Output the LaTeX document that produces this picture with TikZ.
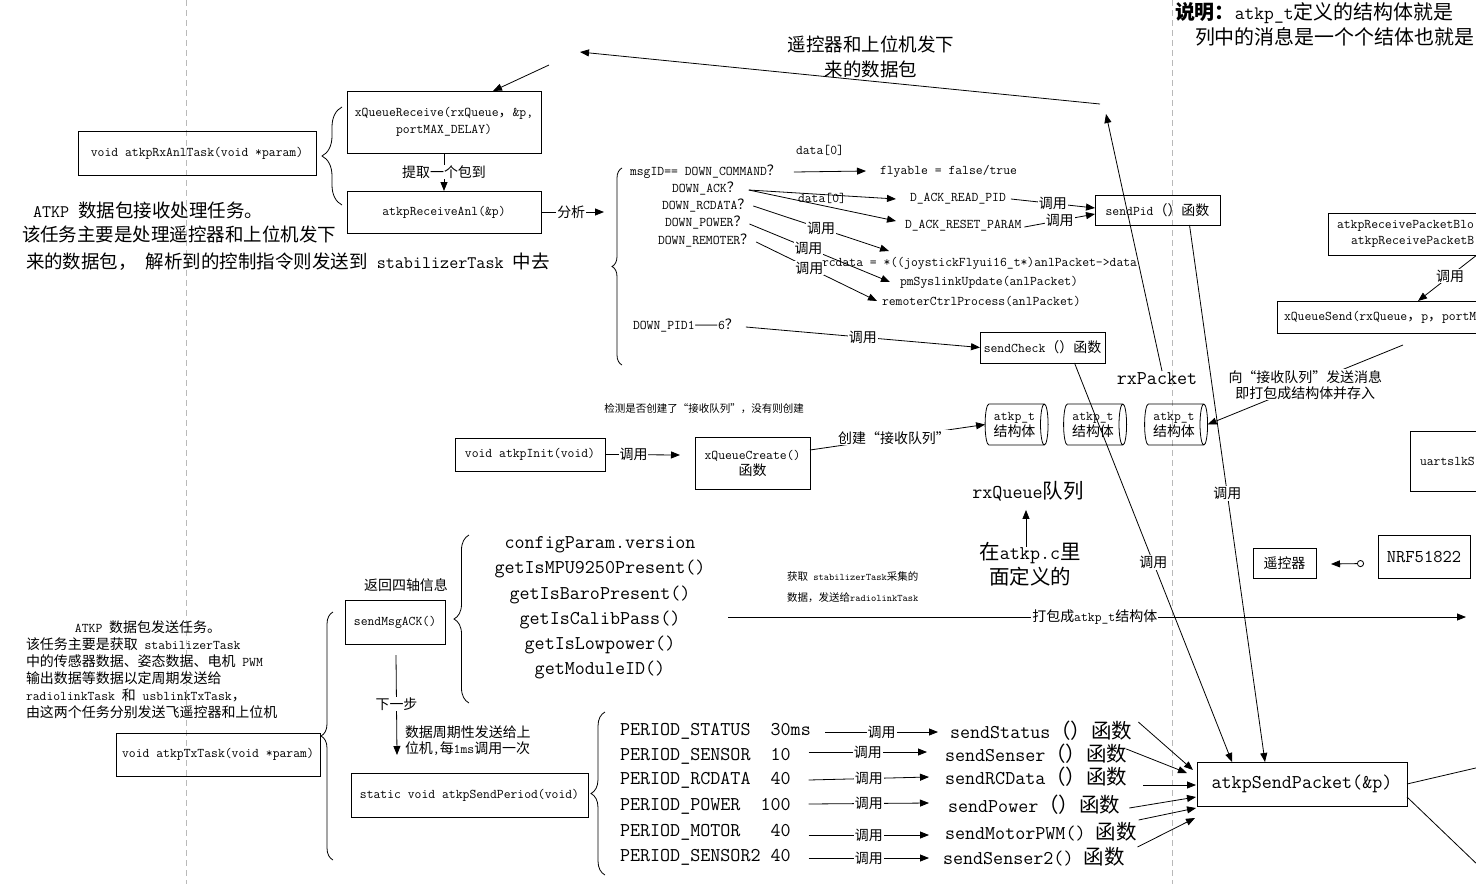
\documentclass[tikz,border=0pt]{standalone}
\usepackage{fontspec}
\newfontfamily\zhf{Noto Sans CJK SC}[Scale=1.05]
\newcommand\zh[1]{{\zhf #1}}
\usetikzlibrary{arrows.meta,shapes.geometric,decorations.pathreplacing,calc}
\tikzset{
  every node/.style={inner sep=0pt, outer sep=0pt},
  ln/.style={line width=0.8pt},
  arr/.style={line width=0.8pt, -{Triangle[length=9pt,width=7pt]}},
  fnt/.style 2 args={font=\ttfamily\fontsize{#1}{#2}\selectfont},
  sm/.style={fnt={13.3}{16}},
  big/.style={fnt={19.5}{25.2}},
  mid/.style={fnt={17.6}{25}},
  tny/.style={fnt={10}{12}},
  box/.style={draw, line width=0.8pt, align=center, sm},
  lab/.style={fill=white, inner sep=1pt, sm},
  brc/.style={decorate, decoration={brace, amplitude=#1}, line width=0.8pt},
  dashln/.style={draw=gray!55, line width=0.8pt, dash pattern=on 6pt off 4pt},
  cyl/.style={cylinder, draw, line width=0.8pt, shape aspect=0.3, minimum width=41, minimum height=63, align=center, sm}
}
\begin{document}
\begin{tikzpicture}[x=1pt,y=-1pt]
\useasboundingbox (0,0) rectangle (1476,884);
\clip (0,0) rectangle (1476,884);

% separators
\draw[dashln] (186,0) -- (186,884);
\draw[dashln] (1172,0) -- (1172,884);

% note top right
\node[fnt={19}{24}, anchor=west] (note1) at (1175,13) {\zh{\bfseries 说明：}atkp\_t\zh{定义的结构体就是}};
\node[fnt={19}{24}, anchor=west] (note2) at (1195,37) {\zh{列中的消息是一个个结体也就是}};

% ---------- receive task ----------
\node[box, minimum width=238, minimum height=44] (rxTask) at (197,153) {void atkpRxAnlTask(void *param)};
\draw[brc=20] (342,205) -- (342,107);
\node[box, fnt={13.3}{17}, minimum width=194, minimum height=62] (xqr) at (444,122) {xQueueReceive(rxQueue\zh{，}\&p,\\portMAX\_DELAY)};
\node[box, minimum width=194, minimum height=42] (anl) at (444,212) {atkpReceiveAnl(\&p)};
\draw[arr] (xqr) -- (anl) node[lab, midway] {\zh{提取一个包到}};

\node[mid, anchor=west] (rxd1) at (33,210) {ATKP \zh{数据包接收处理任务。}};
\node[mid, anchor=west] (rxd2) at (22,234) {\zh{该任务主要是处理遥控器和上位机发下}};
\node[mid, anchor=west] (rxd3) at (26,262) {\zh{来的数据包，} \zh{解析到的控制指令则发送到} stabilizerTask \zh{中去}};

% top arrows
\coordinate (pktR) at (1100,104);
\coordinate (pktL) at (580,52);
\draw[arr] (pktR) -- (pktL);
\node[mid, align=center] (pktLbl) at (871,57) {\zh{遥控器和上位机发下}\\\zh{来的数据包}};
\coordinate (inQ) at (549,65);
\draw[arr] (inQ) -- ($(xqr.north)+(49,0)$);

\coordinate (anlOut) at (604,212);
\draw[arr] (anl.east) -- (anlOut) node[lab, pos=0.48] {\zh{分析}};

% msg parsing
\draw[brc=10] (622,365) -- (622,168);
\node[sm, anchor=west] (cmd) at (630,172) {msgID== DOWN\_COMMAND\zh{？}};
\node[sm, anchor=west] (ack) at (672,189) {DOWN\_ACK\zh{？}};
\node[sm, anchor=west] (rcd) at (662,206) {DOWN\_RCDATA\zh{？}};
\node[sm, anchor=west] (pwr) at (665,223) {DOWN\_POWER\zh{？}};
\node[sm, anchor=west] (rem) at (658,241) {DOWN\_REMOTER\zh{？}};
\node[sm, anchor=west] (pid) at (633,326) {DOWN\_PID1\zh{——}6\zh{？}};

\node[sm] (d0a) at (820,150) {data[0]};
\node[sm, anchor=west] (fly) at (880,171) {flyable = false/true};
\node[sm, anchor=west] (rpid) at (910,199) {D\_ACK\_READ\_PID};
\node[sm, anchor=west] (rst) at (905,226) {D\_ACK\_RESET\_PARAM};
\node[sm, anchor=west] (rcv) at (822,263) {rcdata = *((joystickFlyui16\_t*)anlPacket->data};
\node[sm, anchor=west] (pm) at (900,282) {pmSyslinkUpdate(anlPacket)};
\node[sm, anchor=west] (rcp) at (882,301) {remoterCtrlProcess(anlPacket)};

\draw[arr] ($(cmd.east)+(13,0)$) -- ($(fly.west)+(-14,0)$);
\draw[arr] ($(ack.east)+(8,1)$) -- ($(rpid.west)+(-14,0)$);
\node[sm] (d0b) at (822,198) {data[0]};
\draw[arr] ($(ack.east)+(8,1)$) -- ($(rst.west)+(-9,-5)$);
\coordinate (rcIn) at (889,251);
\draw[arr] ($(rcd.east)+(2,0)$) -- (rcIn) node[lab, midway] {\zh{调用}};
\draw[arr] ($(pwr.east)+(2,1)$) -- ($(pm.west)+(-10,0)$) node[lab, pos=0.42] {\zh{调用}};
\draw[arr] ($(rem.east)+(2,1)$) -- ($(rcp.west)+(-5,0)$) node[lab, pos=0.44] {\zh{调用}};

\node[box, minimum width=125, minimum height=30] (sp) at (1157.5,210) {sendPid\zh{（）函数}};
\draw[arr] ($(rpid.east)+(5,0)$) -- ($(sp.west)+(0,-2)$) node[lab, midway] {\zh{调用}};
\draw[arr] ($(rst.east)+(3,1)$) -- ($(sp.west)+(0,4)$) node[lab, midway] {\zh{调用}};

\node[box, minimum width=125, minimum height=31] (sc) at (1042.5,347.5) {sendCheck\zh{（）函数}};
\draw[arr] ($(pid.east)+(7,1)$) -- (sc.west) node[lab, midway] {\zh{调用}};

% queue
\node[cyl] (c1) at (1014.5,424.5) {atkp\_t\\\zh{结构体}};
\node[cyl] (c2) at (1093,424.5) {atkp\_t\\\zh{结构体}};
\node[cyl] (c3) at (1174,424.5) {atkp\_t\\\zh{结构体}};
\node[big] (rxp) at (1157,379) {rxPacket};
\coordinate (pktIn) at (1106,114);
\draw[arr] ($(rxp.north)+(5,-2)$) -- (pktIn);

\node[big] (rxq) at (1028,491) {rxQueue\zh{队列}};
\node[big, align=center] (def) at (1030,564) {\zh{在}atkp.c\zh{里}\\\zh{面定义的}};
\draw[arr] ($(def.north)+(-4,5)$) -- ($(rxq.south)+(-2,9)$);

% right-side boxes
\node[box, anchor=west, minimum height=42, text width=150pt, inner xsep=9pt, align=left] (arpb) at (1328,234) {atkpReceivePacketBlo\\\hspace*{14pt}atkpReceivePacketB};
\node[box, anchor=west, minimum height=32, text width=200pt, inner xsep=7pt, align=left] (xqs) at (1277,317) {xQueueSend(rxQueue\zh{，}p\zh{，}portM};
\coordinate (arpbOut) at (1482,251);
\draw[arr] (arpbOut) -- ($(xqs.north west)+(141,0)$) node[lab, midway] {\zh{调用}};
\draw[arr] ($(xqs.south west)+(126,12)$) -- (c3.east) node[lab, midway, align=center] {\zh{向“接收队列”发送消息}\\\zh{即打包成结构体并存入}};

\node[box, anchor=west, minimum height=60, text width=70pt, inner xsep=10pt, align=left] (uart) at (1410,461) {uartslkS};
\node[box, minimum width=63, minimum height=30] (rc) at (1284.5,563) {\zh{遥控器}};
\node[box, fnt={18}{22}, minimum width=92, minimum height=43] (nrf) at (1424,556.5) {NRF51822};
\draw[line width=0.8pt, {Circle[open,length=7pt,width=7pt]}-{Triangle[length=9pt,width=7pt]}] ($(nrf.west)+(-14,7)$) -- ($(rc.east)+(15,1)$);

% init
\node[tny] (chk) at (704,409) {\zh{检测是否创建了“接收队列”，没有则创建}};
\node[box, minimum width=150, minimum height=33] (init) at (530,454.5) {void atkpInit(void)};
\node[box, minimum width=115, minimum height=52] (xqc) at (752.5,463) {xQueueCreate()\\\zh{函数}};
\draw[arr] (init.east) -- ($(xqc.west)+(-15,-8)$) node[lab, pos=0.38] {\zh{调用}};
\draw[arr] ($(xqc.east)+(0,-13)$) -- (c1.west) node[lab, pos=0.48] {\zh{创建“接收队列”}};

% ---------- transmit task ----------
\node[fnt={13.3}{17}, anchor=north west, align=left] (txd) at (26,621) {\hspace*{49pt}ATKP \zh{数据包发送任务。}\\\zh{该任务主要是获取} stabilizerTask\\\zh{中的传感器数据、姿态数据、电机} PWM\\\zh{输出数据等数据以定周期发送给}\\radiolinkTask \zh{和} usblinkTxTask\zh{，}\\\zh{由这两个任务分别发送飞遥控器和上位机}};
\node[box, minimum width=204, minimum height=43] (tx) at (218,754.5) {void atkpTxTask(void *param)};
\draw[brc=12] (333,860) -- (333,612);
\node[box, minimum width=100, minimum height=44] (ack2) at (395,622) {sendMsgACK()};
\node[sm] (retq) at (406,585) {\zh{返回四轴信息}};
\draw[brc=15] (469,703) -- (469,535);
\node[big, align=center] (info) at (600,608) {configParam.version\\getIsMPU9250Present()\\getIsBaroPresent()\\getIsCalibPass()\\getIsLowpower()\\getModuleID()};

\node[tny, anchor=west] (get1) at (787,576) {\zh{获取} stabilizerTask\zh{采集的}};
\node[tny, anchor=west] (get2) at (787,598) {\zh{数据，发送给}radiolinkTask};
\coordinate (pkL) at (728,617);
\coordinate (pkR) at (1466,617);
\draw[arr] (pkL) -- (pkR) node[lab, pos=0.497] {\zh{打包成}atkp\_t\zh{结构体}};

\node[box, minimum width=237, minimum height=44] (per) at (469.5,795) {static void atkpSendPeriod(void)};
\draw[arr] ($(ack2.south)+(1,11)$) -- ($(per.north)+(-72.5,-18)$) node[lab, pos=0.49] {\zh{下一步}};
\node[sm, anchor=west, align=left] (perd) at (405,741) {\zh{数据周期性发送给上}\\\zh{位机},\zh{每}1ms\zh{调用一次}};

\draw[brc=14] (605,875) -- (605,712);
\node[big, anchor=west] (p1) at (620,731) {PERIOD\_STATUS\ \ 30ms};
\node[big, anchor=west] (p2) at (620,756) {PERIOD\_SENSOR\ \ 10};
\node[big, anchor=west] (p3) at (620,780) {PERIOD\_RCDATA\ \ 40};
\node[big, anchor=west] (p4) at (620,806) {PERIOD\_POWER\ \ 100};
\node[big, anchor=west] (p5) at (620,832) {PERIOD\_MOTOR\ \ \ 40};
\node[big, anchor=west] (p6) at (620,857) {PERIOD\_SENSOR2\ 40};
\node[big, anchor=west] (s1) at (950,731) {sendStatus\zh{（）函数}};
\node[big, anchor=west] (s2) at (945,754) {sendSenser\zh{（）函数}};
\node[big, anchor=west] (s3) at (945,777) {sendRCData\zh{（）函数}};
\node[big, anchor=west] (s4) at (948,805) {sendPower\zh{（）函数}};
\node[big, anchor=west] (s5) at (945,832) {sendMotorPWM() \zh{函数}};
\node[big, anchor=west] (s6) at (943,857) {sendSenser2() \zh{函数}};
\draw[arr] ($(p1.east)+(14.5,1)$) -- ($(s1.west)+(-12,1)$) node[lab, midway] {\zh{调用}};
\draw[arr] ($(p2.east)+(18,-4)$) -- ($(s2.west)+(-18,-2)$) node[lab, midway] {\zh{调用}};
\draw[arr] ($(p3.east)+(18,0)$) -- ($(s3.west)+(-16,0)$) node[lab, midway] {\zh{调用}};
\draw[arr] ($(p4.east)+(18,-2)$) -- ($(s4.west)+(-19,-2)$) node[lab, midway] {\zh{调用}};
\draw[arr] ($(p5.east)+(18,3)$) -- ($(s5.west)+(-16,3)$) node[lab, midway] {\zh{调用}};
\draw[arr] ($(p6.east)+(18,1)$) -- ($(s6.west)+(-14,1)$) node[lab, midway] {\zh{调用}};

\node[box, big, minimum width=210, minimum height=44] (asp) at (1302,784) {atkpSendPacket(\&p)};
\draw[arr] ($(s1.east)+(6,-9)$) -- ($(asp.west)+(-4,-14)$);
\draw[arr] ($(s2.east)+(-1,-5)$) -- ($(asp.west)+(-10,-11)$);
\draw[arr] ($(s3.east)+(16,8)$) -- ($(asp.west)+(-1,1)$);
\draw[arr] ($(s4.east)+(9,3)$) -- ($(asp.west)+(-1,13)$);
\draw[arr] ($(s5.east)+(2,-12)$) -- ($(asp.west)+(-1,24)$);
\draw[arr] ($(s6.east)+(13,-10)$) -- ($(asp.west)+(-2,34)$);

\coordinate (aspR1) at (1480,767);
\coordinate (aspR2) at (1480,867);
\draw[ln] (asp.east) -- (aspR1);
\draw[ln] ($(asp.east)+(0,13)$) -- (aspR2);

\draw[arr] ($(sc.south)+(32,0)$) -- ($(asp.north)+(-70,0)$) node[lab, midway] {\zh{调用}};
\draw[arr] ($(sp.south)+(32,0)$) -- ($(asp.north)+(-37,0)$) node[lab, midway] {\zh{调用}};
\end{tikzpicture}
\end{document}
